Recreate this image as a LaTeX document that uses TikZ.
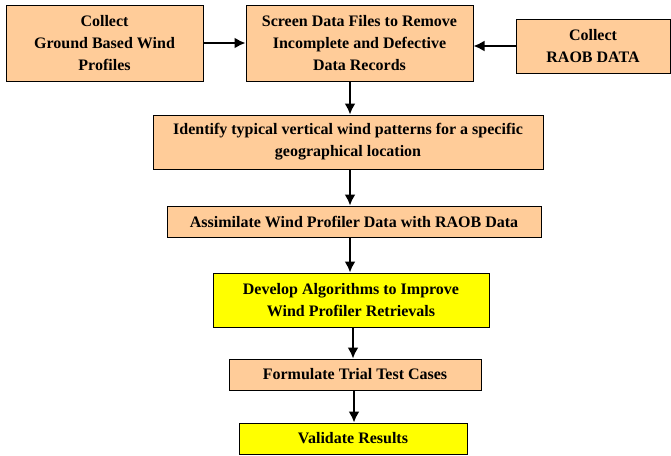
\documentclass[tikz,border=0pt]{standalone}
\usepackage{fontspec}
\setmainfont{Liberation Serif}
\usetikzlibrary{arrows.meta}
\definecolor{peach}{RGB}{255,204,153}
\definecolor{hiyellow}{RGB}{255,255,0}
\tikzset{
  stepbox/.style={draw=black, line width=1pt, fill=peach, align=center,
    inner sep=0pt, font=\fontsize{16}{22}\selectfont\bfseries},
  keybox/.style={stepbox, fill=hiyellow},
  flow/.style={line width=2pt, -{Latex[length=11pt,width=11pt]}}
}
\begin{document}
\begin{tikzpicture}[x=1pt,y=-1pt]
            \useasboundingbox (0,0) rectangle (671,455);
            % top row
            \node[stepbox, minimum width=197pt, minimum height=76pt] (ground) at (104.5,43) {Collect\\Ground Based Wind\\Profiles};
            \node[stepbox, minimum width=227pt, minimum height=76pt] (screen) at (359.5,43) {Screen Data Files to Remove\\Incomplete and Defective\\Data Records};
            \node[stepbox, minimum width=154pt, minimum height=54pt] (raob) at (593,46) {Collect\\RAOB DATA};
            % main column
            \node[stepbox, minimum width=390pt, minimum height=54pt] (identify) at (348,142) {Identify typical vertical wind patterns for a specific\\geographical location};
            \node[stepbox, minimum width=374pt, minimum height=31pt] (assim) at (354,221.5) {Assimilate Wind Profiler Data with RAOB Data};
            \node[keybox, minimum width=276pt, minimum height=54pt] (develop) at (351,300) {Develop Algorithms to Improve\\Wind Profiler Retrievals};
            \node[stepbox, minimum width=252pt, minimum height=31pt] (trial) at (355,374.5) {Formulate Trial Test Cases};
            \node[keybox, minimum width=228pt, minimum height=31pt] (validate) at (353,438.5) {Validate Results};
            % connectors
            \draw[flow] (ground.east) -- (screen.west);
            \draw[flow] (raob.west) -- (raob.west -| screen.east);
            \draw[flow] (screen.south -| 350,0) -- (identify.north -| 350,0);
            \draw[flow] (identify.south -| 350,0) -- (assim.north -| 350,0);
            \draw[flow] (assim.south -| 350,0) -- (develop.north -| 350,0);
            \draw[flow] (develop.south -| 353,0) -- (trial.north -| 353,0);
            \draw[flow] (trial.south -| 354,0) -- (validate.north -| 354,0);
\end{tikzpicture}
\end{document}
